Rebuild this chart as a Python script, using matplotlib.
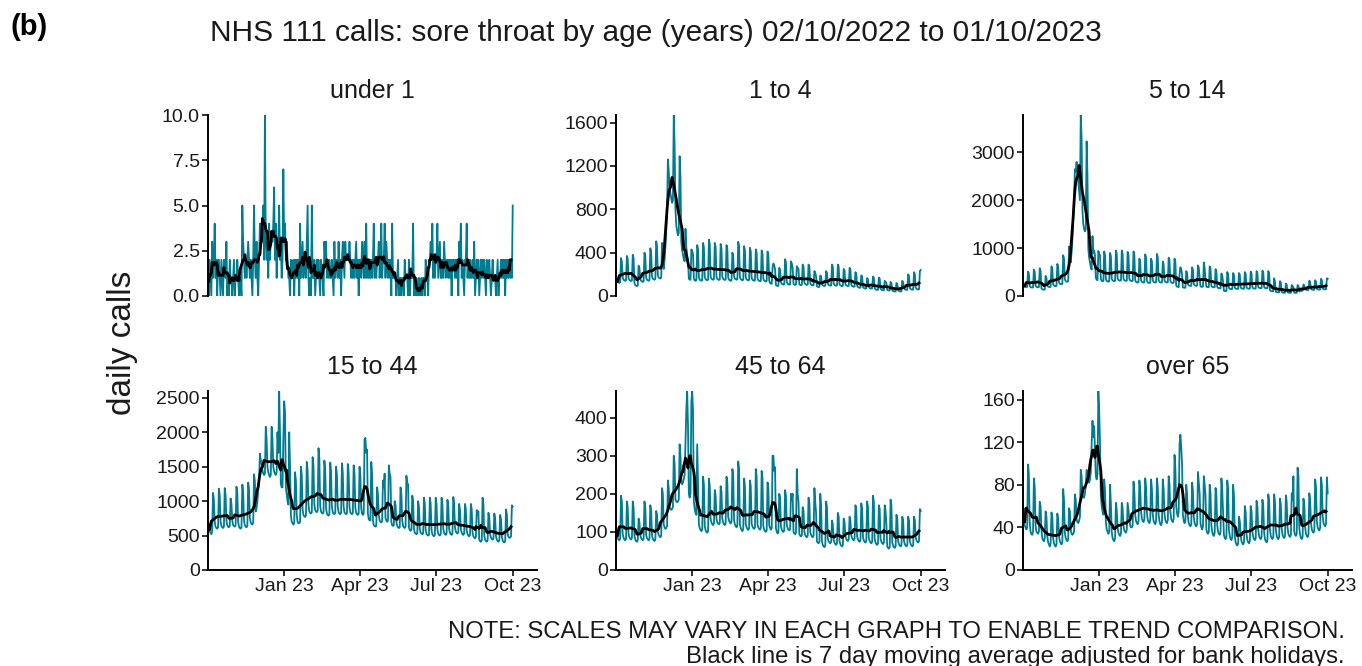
import numpy as np
import pandas as pd
import matplotlib
matplotlib.use("Agg")
import matplotlib.pyplot as plt

plt.rcParams['font.family'] = ['Liberation Sans', 'DejaVu Sans']

# ---------------- data (daily calls, 02/10/2022 .. 01/10/2023; rows = Sun..Sat) -------------
start_date = "2022-10-02"
end_date = "2023-10-01"
bank_holidays = ["2022-12-26", "2022-12-27", "2023-01-02", "2023-04-07", "2023-04-10",
                 "2023-05-01", "2023-05-08", "2023-05-29", "2023-08-28"]

under_1 = [
    1, 0, 2, 1, 0, 3, 1,
    2, 4, 1, 2, 0, 2, 2,
    1, 0, 2, 1, 0, 2, 2,
    1, 3, 0, 1, 0, 2, 1,
    1, 0, 1, 2, 0, 1, 1,
    2, 1, 0, 1, 1, 0, 5,
    3, 2, 1, 2, 1, 2, 3,
    2, 1, 2, 1, 0, 2, 5,
    2, 1, 3, 1, 0, 2, 4,
    3, 3, 3, 5, 2, 10, 3,
    2, 3, 1, 4, 2, 3, 3,
    3, 4, 6, 2, 4, 1, 3,
    3, 5, 2, 3, 1, 2, 7,
    3, 4, 2, 3, 2, 1, 1,
    0, 2, 1, 1, 2, 0, 2,
    1, 2, 1, 2, 0, 4, 1,
    2, 3, 1, 2, 2, 1, 3,
    5, 1, 0, 1, 0, 5, 1,
    1, 2, 0, 1, 2, 1, 2,
    1, 0, 2, 1, 1, 0, 3,
    2, 3, 1, 2, 1, 2, 1,
    1, 2, 1, 0, 3, 1, 2,
    2, 1, 3, 1, 2, 0, 2,
    3, 2, 1, 3, 2, 2, 2,
    2, 3, 2, 1, 2, 1, 2,
    1, 2, 3, 1, 2, 0, 2,
    2, 1, 3, 2, 1, 3, 1,
    4, 1, 2, 1, 2, 1, 2,
    1, 2, 4, 1, 2, 1, 2,
    2, 3, 1, 2, 4, 1, 2,
    2, 4, 1, 3, 2, 1, 2,
    1, 2, 0, 4, 1, 1, 1,
    1, 0, 1, 2, 0, 1, 1,
    0, 1, 1, 0, 2, 1, 1,
    1, 0, 2, 0, 1, 1, 1,
    4, 0, 1, 0, 1, 0, 0,
    1, 0, 0, 1, 0, 1, 1,
    0, 2, 1, 1, 0, 2, 2,
    3, 2, 4, 1, 2, 1, 2,
    2, 4, 1, 2, 3, 1, 1,
    2, 1, 3, 2, 1, 2, 2,
    1, 2, 1, 2, 0, 2, 2,
    2, 1, 2, 1, 2, 0, 3,
    2, 4, 1, 2, 1, 0, 2,
    2, 4, 1, 2, 1, 2, 1,
    1, 2, 1, 3, 0, 1, 2,
    1, 2, 0, 1, 2, 1, 2,
    1, 2, 1, 0, 2, 1, 1,
    2, 1, 0, 1, 2, 1, 1,
    1, 0, 1, 2, 0, 1, 1,
    2, 1, 2, 1, 2, 0, 2,
    1, 2, 1, 2, 1, 2, 1,
    5,
]

age_1_4 = [
    150, 150, 130, 125, 120, 125, 350,
    320, 170, 150, 145, 140, 145, 370,
    340, 165, 148, 142, 138, 142, 380,
    350, 120, 100, 95, 92, 95, 280,
    260, 160, 140, 135, 130, 135, 400,
    370, 170, 150, 145, 140, 148, 440,
    400, 180, 160, 155, 150, 158, 505,
    460, 190, 170, 165, 162, 170, 490,
    450, 250, 330, 450, 600, 800, 1260,
    1150, 1000, 950, 900, 860, 880, 1670,
    1400, 800, 650, 600, 560, 580, 1290,
    1100, 500, 420, 380, 340, 320, 620,
    450, 380, 330, 160, 150, 150, 430,
    420, 380, 160, 145, 140, 145, 470,
    430, 170, 150, 145, 140, 145, 490,
    450, 175, 155, 150, 145, 150, 520,
    480, 180, 160, 155, 150, 155, 490,
    450, 178, 158, 152, 148, 152, 480,
    440, 178, 158, 152, 148, 152, 470,
    430, 170, 150, 145, 140, 145, 400,
    370, 180, 160, 155, 150, 155, 500,
    460, 175, 155, 150, 145, 150, 460,
    420, 172, 152, 148, 144, 148, 445,
    410, 168, 150, 145, 140, 145, 430,
    400, 165, 146, 140, 136, 140, 420,
    390, 160, 142, 138, 134, 138, 410,
    380, 140, 120, 115, 112, 260, 300,
    280, 250, 100, 95, 92, 95, 260,
    240, 130, 112, 108, 105, 108, 340,
    310, 130, 112, 108, 105, 108, 320,
    300, 260, 112, 105, 102, 106, 275,
    260, 250, 108, 102, 100, 104, 290,
    270, 125, 110, 105, 102, 106, 290,
    270, 120, 105, 100, 97, 100, 230,
    215, 180, 90, 85, 82, 85, 190,
    180, 110, 98, 94, 92, 95, 230,
    215, 115, 102, 98, 95, 98, 290,
    270, 115, 102, 98, 95, 98, 290,
    270, 110, 98, 94, 90, 94, 250,
    235, 110, 98, 94, 90, 94, 260,
    245, 105, 92, 88, 85, 88, 220,
    205, 95, 82, 78, 75, 78, 190,
    180, 85, 74, 70, 68, 70, 165,
    155, 85, 74, 70, 68, 70, 180,
    170, 72, 62, 58, 56, 58, 170,
    160, 68, 58, 55, 52, 55, 140,
    130, 120, 55, 52, 50, 52, 130,
    120, 55, 46, 43, 41, 43, 120,
    110, 55, 46, 43, 42, 44, 140,
    125, 72, 62, 58, 56, 58, 200,
    185, 75, 64, 60, 58, 60, 220,
    200, 78, 66, 62, 60, 62, 230,
    240,
]

age_5_14 = [
    250, 230, 200, 190, 185, 190, 510,
    470, 210, 185, 180, 175, 182, 550,
    500, 215, 190, 185, 180, 186, 580,
    530, 160, 140, 135, 130, 135, 420,
    380, 220, 195, 190, 185, 192, 620,
    570, 245, 215, 210, 205, 212, 670,
    610, 290, 255, 250, 245, 255, 850,
    780, 350, 310, 300, 295, 310, 1030,
    950, 700, 900, 1200, 1600, 2000, 2650,
    2600, 2800, 2600, 2400, 2200, 2000, 3780,
    3300, 1800, 1500, 1400, 1350, 1400, 3230,
    2500, 1000, 800, 700, 600, 550, 1250,
    900, 950, 850, 380, 340, 330, 940,
    880, 850, 350, 320, 310, 310, 930,
    850, 350, 315, 305, 300, 305, 900,
    830, 360, 325, 315, 310, 318, 950,
    880, 370, 335, 325, 320, 328, 950,
    880, 365, 330, 320, 315, 322, 920,
    850, 360, 325, 315, 310, 318, 930,
    860, 330, 295, 285, 280, 290, 780,
    720, 330, 295, 285, 280, 290, 870,
    800, 320, 285, 275, 270, 280, 780,
    720, 330, 295, 285, 280, 290, 880,
    810, 330, 295, 285, 280, 290, 720,
    660, 330, 295, 285, 280, 290, 800,
    740, 320, 285, 275, 270, 280, 780,
    720, 220, 195, 190, 185, 450, 600,
    560, 450, 180, 175, 170, 175, 520,
    480, 245, 220, 215, 210, 215, 600,
    550, 250, 222, 215, 210, 218, 640,
    590, 380, 200, 195, 190, 198, 700,
    580, 350, 195, 188, 182, 190, 620,
    570, 215, 190, 184, 180, 186, 560,
    510, 190, 168, 162, 158, 164, 470,
    430, 300, 110, 105, 100, 105, 500,
    460, 170, 150, 145, 142, 148, 480,
    440, 175, 155, 150, 146, 152, 480,
    440, 180, 160, 155, 150, 156, 500,
    460, 180, 160, 155, 150, 156, 510,
    470, 182, 162, 157, 152, 158, 520,
    480, 190, 170, 165, 160, 166, 530,
    490, 188, 168, 163, 158, 164, 520,
    480, 120, 105, 100, 97, 100, 370,
    300, 90, 80, 76, 74, 78, 310,
    280, 82, 72, 68, 66, 70, 260,
    240, 80, 70, 66, 64, 68, 230,
    210, 180, 70, 66, 64, 68, 230,
    210, 95, 100, 105, 108, 112, 240,
    220, 140, 130, 126, 124, 128, 320,
    290, 145, 135, 130, 128, 132, 330,
    300, 150, 140, 135, 132, 138, 360,
    330, 155, 145, 140, 138, 142, 370,
    360,
]

age_15_44 = [
    700, 640, 560, 540, 520, 560, 1120,
    1030, 700, 630, 610, 600, 620, 1180,
    1080, 710, 640, 620, 610, 630, 1190,
    1090, 720, 650, 630, 620, 640, 1040,
    960, 720, 650, 640, 630, 650, 1210,
    1110, 700, 630, 610, 600, 620, 1240,
    1140, 720, 650, 630, 620, 640, 1270,
    1170, 760, 690, 670, 660, 690, 1390,
    1280, 850, 900, 1000, 1150, 1300, 1690,
    1600, 1550, 1450, 1400, 1380, 1400, 2080,
    1900, 1500, 1420, 1380, 1350, 1380, 2080,
    1900, 1500, 1430, 1400, 1380, 1420, 2000,
    1700, 2600, 2000, 1250, 1200, 1200, 1900,
    2450, 2300, 1200, 1100, 1000, 950, 2000,
    1500, 800, 700, 680, 660, 680, 1420,
    1300, 800, 700, 680, 680, 700, 1500,
    1380, 880, 800, 780, 770, 790, 1570,
    1440, 950, 850, 830, 820, 840, 1640,
    1510, 960, 870, 850, 840, 860, 1770,
    1620, 930, 850, 830, 820, 840, 1590,
    1460, 900, 820, 800, 790, 810, 1560,
    1430, 920, 840, 820, 810, 830, 1500,
    1380, 920, 840, 820, 810, 830, 1550,
    1420, 920, 840, 820, 810, 830, 1540,
    1410, 920, 840, 820, 810, 830, 1520,
    1400, 910, 830, 810, 800, 820, 1500,
    1380, 900, 820, 800, 820, 1900, 1920,
    1700, 1750, 820, 740, 720, 720, 1570,
    1400, 720, 650, 640, 630, 640, 1200,
    1100, 800, 720, 700, 690, 710, 1300,
    1200, 1400, 760, 720, 700, 720, 1520,
    1400, 1350, 700, 650, 640, 650, 1000,
    950, 700, 640, 620, 610, 620, 1200,
    1100, 720, 640, 620, 610, 630, 1370,
    1250, 1250, 620, 580, 570, 580, 1080,
    1000, 600, 540, 530, 520, 530, 1000,
    920, 600, 540, 530, 520, 530, 1050,
    960, 580, 520, 510, 500, 510, 1050,
    960, 580, 520, 500, 490, 510, 1050,
    960, 590, 530, 510, 500, 520, 1050,
    960, 600, 540, 520, 510, 530, 1020,
    940, 600, 540, 520, 510, 530, 1060,
    970, 620, 560, 540, 530, 550, 960,
    880, 600, 540, 520, 510, 530, 960,
    880, 580, 520, 500, 490, 510, 960,
    880, 550, 490, 470, 460, 480, 870,
    800, 850, 440, 420, 410, 430, 1050,
    950, 500, 440, 420, 410, 430, 830,
    760, 520, 470, 450, 440, 460, 820,
    750, 490, 440, 420, 410, 430, 800,
    740, 480, 430, 410, 400, 420, 880,
    810, 520, 480, 470, 470, 490, 940,
    920,
]

age_45_64 = [
    120, 95, 85, 80, 78, 82, 195,
    180, 95, 85, 80, 78, 82, 180,
    165, 95, 86, 82, 80, 84, 180,
    165, 90, 80, 76, 74, 78, 135,
    125, 92, 84, 80, 78, 82, 180,
    165, 92, 84, 80, 78, 82, 170,
    155, 90, 82, 78, 76, 80, 155,
    145, 100, 92, 88, 86, 90, 215,
    200, 120, 112, 108, 110, 115, 235,
    215, 165, 160, 158, 160, 165, 300,
    280, 185, 180, 178, 180, 185, 330,
    300, 230, 225, 230, 240, 250, 330,
    420, 470, 380, 200, 190, 200, 440,
    470, 420, 180, 160, 150, 145, 330,
    220, 120, 110, 105, 102, 106, 245,
    225, 115, 105, 100, 98, 102, 240,
    220, 135, 125, 120, 118, 122, 210,
    195, 135, 125, 122, 120, 124, 220,
    205, 135, 125, 120, 118, 122, 245,
    230, 140, 130, 125, 122, 128, 265,
    250, 130, 120, 115, 112, 118, 285,
    265, 120, 110, 105, 102, 108, 240,
    220, 120, 112, 108, 105, 110, 235,
    220, 122, 114, 110, 108, 112, 265,
    245, 120, 112, 108, 106, 110, 260,
    240, 115, 106, 102, 100, 104, 230,
    215, 118, 110, 106, 110, 300, 300,
    260, 270, 110, 100, 96, 98, 200,
    190, 115, 106, 102, 100, 104, 210,
    195, 118, 110, 106, 104, 108, 200,
    185, 200, 100, 96, 94, 98, 265,
    200, 180, 95, 90, 88, 92, 165,
    155, 100, 92, 88, 86, 90, 190,
    175, 100, 92, 88, 86, 90, 215,
    180, 150, 75, 72, 70, 74, 200,
    170, 75, 66, 62, 60, 64, 180,
    165, 82, 75, 72, 70, 74, 130,
    120, 80, 72, 68, 66, 70, 150,
    140, 76, 68, 64, 62, 66, 135,
    125, 90, 82, 78, 76, 80, 140,
    130, 92, 84, 80, 78, 82, 170,
    160, 88, 80, 76, 74, 78, 175,
    160, 86, 78, 74, 72, 76, 180,
    165, 84, 76, 72, 70, 74, 195,
    180, 82, 72, 68, 66, 70, 170,
    160, 82, 74, 70, 68, 72, 170,
    155, 120, 62, 58, 56, 60, 185,
    170, 72, 64, 60, 58, 62, 145,
    135, 75, 68, 64, 62, 66, 140,
    130, 76, 68, 64, 62, 66, 140,
    130, 76, 68, 64, 62, 66, 140,
    130, 85, 78, 74, 72, 76, 160,
    155,
]

over_65 = [
    52, 58, 42, 40, 38, 40, 99,
    90, 45, 36, 34, 33, 36, 86,
    78, 42, 36, 35, 34, 36, 64,
    60, 38, 30, 28, 27, 30, 55,
    50, 32, 26, 24, 22, 25, 54,
    50, 30, 25, 23, 22, 24, 53,
    48, 32, 27, 25, 24, 26, 76,
    65, 35, 30, 28, 27, 29, 58,
    55, 38, 34, 33, 34, 36, 71,
    66, 48, 45, 44, 46, 50, 94,
    88, 70, 68, 68, 72, 80, 94,
    92, 85, 82, 85, 92, 118, 140,
    125, 135, 112, 88, 85, 90, 168,
    150, 118, 70, 60, 55, 52, 85,
    75, 45, 38, 36, 34, 36, 80,
    62, 36, 30, 28, 27, 30, 63,
    56, 40, 35, 33, 32, 34, 63,
    58, 42, 37, 36, 35, 38, 63,
    55, 48, 42, 40, 40, 42, 83,
    74, 52, 46, 44, 43, 46, 84,
    76, 55, 48, 46, 45, 48, 86,
    78, 54, 47, 45, 44, 47, 85,
    76, 52, 46, 44, 43, 46, 86,
    77, 52, 46, 43, 42, 45, 85,
    76, 53, 47, 45, 44, 47, 88,
    80, 55, 48, 46, 45, 48, 108,
    96, 60, 53, 50, 55, 118, 127,
    115, 100, 52, 46, 44, 46, 80,
    72, 50, 44, 42, 41, 43, 82,
    74, 50, 44, 42, 41, 43, 92,
    82, 72, 44, 40, 38, 41, 88,
    80, 70, 38, 35, 34, 36, 80,
    72, 42, 36, 33, 32, 35, 77,
    70, 42, 36, 34, 33, 36, 86,
    75, 55, 33, 30, 29, 31, 84,
    76, 38, 32, 29, 28, 31, 80,
    70, 32, 26, 24, 23, 25, 50,
    46, 33, 27, 25, 24, 26, 60,
    54, 34, 28, 26, 25, 27, 60,
    55, 36, 31, 29, 28, 30, 65,
    60, 38, 32, 30, 29, 31, 66,
    60, 36, 29, 27, 26, 28, 71,
    65, 38, 32, 30, 29, 31, 71,
    64, 38, 32, 30, 29, 31, 67,
    61, 39, 33, 31, 30, 32, 70,
    64, 40, 34, 32, 31, 33, 72,
    66, 88, 36, 33, 32, 34, 96,
    88, 40, 33, 30, 29, 31, 67,
    62, 40, 34, 32, 31, 33, 72,
    66, 44, 38, 36, 35, 37, 85,
    78, 46, 40, 38, 37, 40, 87,
    80, 50, 44, 42, 41, 44, 87,
    72,
]

panel_titles = ["under 1", "1 to 4", "5 to 14", "15 to 44", "45 to 64", "over 65"]
panel_series = [under_1, age_1_4, age_5_14, age_15_44, age_45_64, over_65]
panel_yticks = [[0, 2.5, 5.0, 7.5, 10.0], [0, 400, 800, 1200, 1600], [0, 1000, 2000, 3000],
                [0, 500, 1000, 1500, 2000, 2500], [0, 100, 200, 300, 400], [0, 40, 80, 120, 160]]
xtick_dates = ["2023-01-01", "2023-04-01", "2023-07-01", "2023-10-01"]
xtick_labels = ["Jan 23", "Apr 23", "Jul 23", "Oct 23"]

main_title = "NHS 111 calls: sore throat by age (years) 02/10/2022 to 01/10/2023"
note_1 = "NOTE: SCALES MAY VARY IN EACH GRAPH TO ENABLE TREND COMPARISON."
note_2 = "Black line is 7 day moving average adjusted for bank holidays."

# ---------------- drawing -------------
TEAL = "#007C91"
W, H = 1362, 666
fig = plt.figure(figsize=(W / 100, H / 100), dpi=100)

dates = pd.date_range(start_date, end_date, freq="D")
bh = pd.to_datetime(bank_holidays)
col_left = [208, 616, 1023]
col_w = 329
row_tb = [(115, 296), (391, 570)]

for i, (title, vals, yt) in enumerate(zip(panel_titles, panel_series, panel_yticks)):
    r, c = divmod(i, 3)
    top, bot = row_tb[r]
    ax = fig.add_axes([col_left[c] / W, 1 - bot / H, col_w / W, (bot - top) / H])
    s = pd.Series(vals, index=dates[:len(vals)], dtype=float)
    ax.plot(s.index, s.values, color=TEAL, lw=1.3, zorder=2)
    s_adj = s.copy()
    s_adj[s_adj.index.isin(bh)] = np.nan
    ma = s_adj.rolling(7, center=True, min_periods=4).mean()
    ax.plot(ma.index[:-2], ma.values[:-2], color="black", lw=2.0, zorder=3)
    ax.set_xlim(pd.Timestamp(start_date), pd.Timestamp("2023-10-30"))
    ax.set_ylim(0, s.max())
    ax.set_yticks(yt)
    if i == 0:
        ax.set_yticklabels([f"{v:.1f}" for v in yt])
    else:
        ax.set_yticklabels([f"{int(v)}" for v in yt])
    for sp in ["top", "right"]:
        ax.spines[sp].set_visible(False)
    ax.spines["left"].set_linewidth(1.4)
    ax.spines["bottom"].set_linewidth(1.4)
    ax.tick_params(axis="both", length=4, width=1.4, color="#333333",
                   labelsize=14, labelcolor="#1a1a1a", pad=2)
    ax.set_xticks(pd.to_datetime(xtick_dates))
    if r == 0:
        ax.spines["bottom"].set_visible(False)
        ax.tick_params(axis="x", bottom=False, labelbottom=False)
    else:
        ax.set_xticklabels(xtick_labels)
    ax.patch.set_alpha(0)
    fig.text((col_left[c] + col_w / 2) / W, 1 - (top - 24) / H, title,
             ha="center", va="center", fontsize=18, color="#1a1a1a")

fig.text(10 / W, 1 - 27 / H, "(b)", fontsize=21, fontweight="bold", ha="left", va="center")
fig.text(656 / W, 1 - 33 / H, main_title, fontsize=21.5, ha="center", va="center", color="#1a1a1a")
fig.text(122 / W, 1 - 343 / H, "daily calls", fontsize=24, rotation=90, ha="center", va="center",
         color="#1a1a1a")
fig.text(1345 / W, 1 - 632 / H, note_1, fontsize=17.2, ha="right", va="center", color="#1a1a1a")
fig.text(1345 / W, 1 - 657 / H, note_2, fontsize=17.2, ha="right", va="center", color="#1a1a1a")

fig.savefig("out.png", dpi=100, facecolor="white")
